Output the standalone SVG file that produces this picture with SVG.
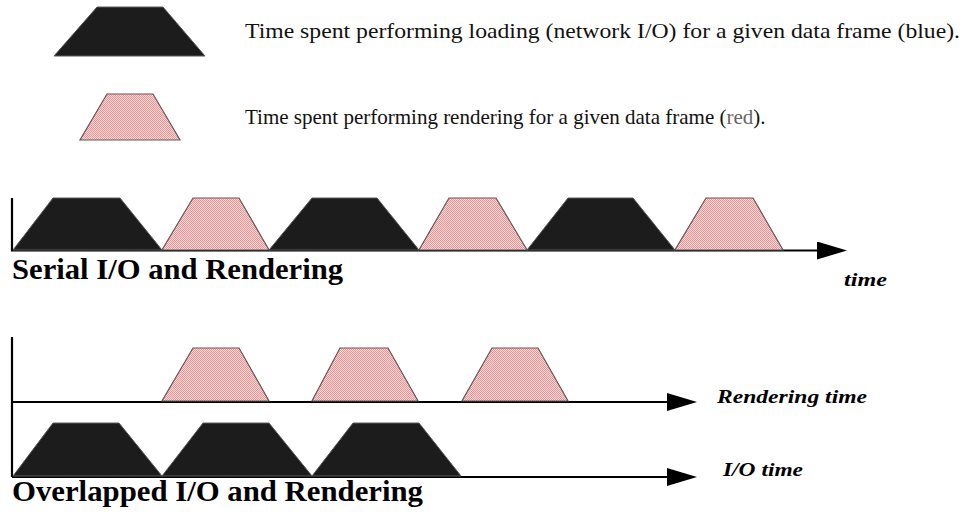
<svg xmlns="http://www.w3.org/2000/svg" width="967" height="513" viewBox="0 0 967 513">
  <defs>
    <!-- dithered pink fill used for the rendering blocks -->
    <pattern id="pinkDither" width="2" height="2" patternUnits="userSpaceOnUse">
      <rect width="2" height="2" fill="#fdd6d6"/>
      <rect x="0" y="0" width="1" height="1" fill="#f09595"/>
      <rect x="1" y="1" width="1" height="1" fill="#f09595"/>
    </pattern>
    <marker id="arrow" viewBox="0 0 30 18" refX="0" refY="9" markerWidth="30" markerHeight="18" markerUnits="userSpaceOnUse" orient="auto">
      <path d="M0,0 L30,9 L0,18 Z" fill="#000"/>
    </marker>
  </defs>
  <style>
    .io { fill: #1c1c1c; stroke: #5a5a5a; stroke-width: 1; }
    .render { fill: url(#pinkDither); stroke: #5a5a5a; stroke-width: 1.2; }
    .axis { fill: none; stroke: #000; stroke-width: 2.2; }
    .legend { font-family: "Liberation Serif", "Times New Roman", serif; font-size: 21px; fill: #111; }
    .muted { fill: #666; }
    .title { font-family: "Liberation Serif", "Times New Roman", serif; font-size: 30px; font-weight: bold; fill: #000; }
    .axislabel { font-family: "Liberation Serif", "Times New Roman", serif; font-size: 19px; font-weight: bold; font-style: italic; fill: #000; }
  </style>

  <rect width="967" height="513" fill="#fff"/>

  <!-- legend -->
  <g id="legend-io">
    <polygon class="io" points="97,7 163,7 205,56 54,56"/>
    <text class="legend" x="245" y="38" textLength="715" lengthAdjust="spacingAndGlyphs">Time spent performing loading (network I/O) for a given data frame (blue).</text>
  </g>
  <g id="legend-render">
    <polygon class="render" points="107,94 153,94 180,140 80,140"/>
    <text class="legend" x="245" y="124">Time spent performing rendering for a given data frame (<tspan class="muted">red</tspan>).</text>
  </g>

  <!-- axes -->
  <g id="connectors">
    <polyline class="axis" points="12,198 12,250.5 817,250.5" marker-end="url(#arrow)"/>
    <line class="axis" x1="12" y1="337" x2="12" y2="477"/>
    <line class="axis" x1="12" y1="402" x2="667" y2="402" marker-end="url(#arrow)"/>
    <line class="axis" x1="12" y1="477" x2="667" y2="477" marker-end="url(#arrow)"/>
  </g>

  <!-- serial timeline -->
  <g id="serial">
    <polygon class="io" points="53,198 120,198 162,250 13,250"/>
    <polygon class="render" points="193,198 239,198 269,250 162,250"/>
    <polygon class="io" points="312,198 377,198 419,250 269,250"/>
    <polygon class="render" points="449,198 496,198 527,250 419,250"/>
    <polygon class="io" points="568,198 633,198 675,250 527,250"/>
    <polygon class="render" points="706,198 753,198 783,250 675,250"/>
    <text class="title" x="12" y="279" textLength="331" lengthAdjust="spacingAndGlyphs">Serial I/O and Rendering</text>
    <text class="axislabel" x="844" y="286" textLength="43" lengthAdjust="spacingAndGlyphs">time</text>
  </g>

  <!-- overlapped timeline -->
  <g id="overlapped-render">
    <polygon class="render" points="193,348 239,348 269,401 162,401"/>
    <polygon class="render" points="340,348 388,348 418,401 312,401"/>
    <polygon class="render" points="492,348 538,348 568,401 462,401"/>
    <text class="axislabel" x="717" y="403" textLength="150" lengthAdjust="spacingAndGlyphs">Rendering time</text>
  </g>
  <g id="overlapped-io">
    <polygon class="io" points="53,423 119,423 162,476 13,476"/>
    <polygon class="io" points="203,423 269,423 312,476 162,476"/>
    <polygon class="io" points="353,423 419,423 461,476 312,476"/>
    <text class="axislabel" x="723" y="476" textLength="80" lengthAdjust="spacingAndGlyphs">I/O time</text>
  </g>
  <text class="title" x="12" y="501" textLength="411" lengthAdjust="spacingAndGlyphs">Overlapped I/O and Rendering</text>
</svg>
